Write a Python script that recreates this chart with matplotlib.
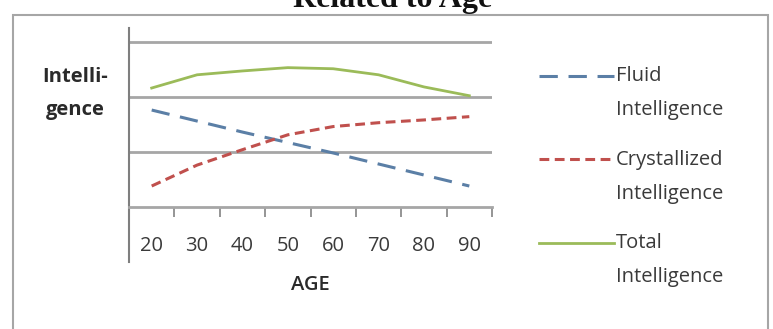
import matplotlib.pyplot as plt
from matplotlib.patches import Rectangle
from matplotlib.legend_handler import HandlerLine2D
import numpy as np

plt.rcParams['font.family'] = ['Open Sans', 'DejaVu Sans']

# data (arbitrary units, gridline step = 1)
ages = ['20', '30', '40', '50', '60', '70', '80', '90']
fluid = [1.76, 1.56, 1.36, 1.17, 0.98, 0.78, 0.58, 0.38]
crystallized = [0.38, 0.76, 1.04, 1.31, 1.46, 1.53, 1.58, 1.64]
total = [2.16, 2.40, 2.47, 2.53, 2.51, 2.40, 2.18, 2.02]
series_labels = ['Fluid\nIntelligence', 'Crystallized\nIntelligence', 'Total\nIntelligence']

LEG_LS = 1.95


class TopHandler(HandlerLine2D):
    # put the legend line next to the first line of a two-line label
    def create_artists(self, legend, orig_handle, xdescent, ydescent, width, height, fontsize, trans):
        arts = super().create_artists(legend, orig_handle, xdescent, ydescent, width, height, fontsize, trans)
        for a in arts:
            a.set_ydata(np.asarray(a.get_ydata()) + 0.45 * LEG_LS * fontsize)
        return arts


fig = plt.figure(figsize=(7.73, 3.29), dpi=100)
fig.patch.set_facecolor('white')

# outer frame of the chart
fig.patches.append(Rectangle((13 / 773, -0.1), 755 / 773, 1.1 - 15 / 329, transform=fig.transFigure,
                             fill=False, edgecolor='#a6a6a6', linewidth=1.5))
fig.text(393 / 773, 1 - 7 / 329, 'Intelligence\nRelated to Age', ha='center', va='baseline',
         family='Liberation Serif', fontweight='bold', fontsize=23, color='#111111')

ax = fig.add_axes([129 / 773, 1 - 262 / 329, 363 / 773, 234 / 329])
x = np.arange(len(ages))

l1, = ax.plot(x, fluid, color='#5b7fa6', linewidth=2.2, dashes=(6, 3.5))
l2, = ax.plot(x, crystallized, color='#c0504d', linewidth=2.2, dashes=(3.2, 1.8))
l3, = ax.plot(x, total, color='#9bbb59', linewidth=2.0)

ax.set_xlim(-0.5, len(ages) - 0.5)
ax.set_ylim(-1.0, 3.25)

for y in [1, 2, 3]:
    ax.axhline(y, color='#a6a6a6', linewidth=2, zorder=0)

ax.spines['top'].set_visible(False)
ax.spines['right'].set_visible(False)
ax.spines['left'].set_color('#7f7f7f')
ax.spines['left'].set_linewidth(1.5)
ax.spines['bottom'].set_position(('data', 0))
ax.spines['bottom'].set_color('#a6a6a6')
ax.spines['bottom'].set_linewidth(2)

ax.set_yticks([])
ax.set_xticks(np.arange(len(ages) + 1) - 0.5)
ax.set_xticklabels([])
ax.tick_params(axis='x', which='major', direction='out', length=7, width=1.3, color='#8c8c8c')
ax.set_xticks(x, minor=True)
ax.set_xticklabels(ages, minor=True, fontsize=14.5, color='#3a3a3a')
ax.tick_params(axis='x', which='minor', length=0, pad=21)

ax.text(0.5, -0.098, 'AGE', transform=ax.transAxes, ha='center', va='center',
        fontsize=14.5, fontweight='semibold', color='#2a2a2a')
ax.text(-0.149, 0.72, 'Intelli-\ngence', transform=ax.transAxes, ha='center', va='center',
        fontsize=14.5, fontweight='bold', color='#2a2a2a', linespacing=1.85)

leg = fig.legend([l1, l2, l3], series_labels, loc='upper left', bbox_to_anchor=(521 / 773, 1 - 48 / 329),
                 frameon=False, fontsize=14.5, handlelength=3.7, handletextpad=0.1, labelspacing=1.45,
                 handler_map={l1: TopHandler(), l2: TopHandler(), l3: TopHandler()})
for t in leg.get_texts():
    t.set_color('#3a3a3a')
    t.set_linespacing(LEG_LS)

fig.savefig('out.png', dpi=100)
